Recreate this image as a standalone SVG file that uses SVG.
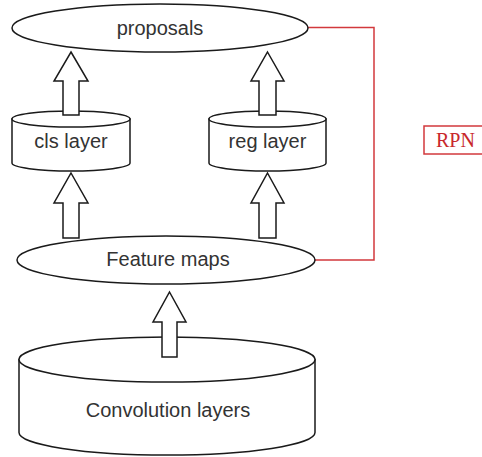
<svg xmlns="http://www.w3.org/2000/svg" width="482" height="457" viewBox="0 0 482 457">
  <style>
    .shape { fill: #ffffff; stroke: #1a1a1a; stroke-width: 1.5; }
    .arrow { fill: #ffffff; stroke: #1a1a1a; stroke-width: 1.5; stroke-linejoin: miter; }
    .label { font-family: "Liberation Sans", Arial, sans-serif; font-size: 20px; fill: #333333; text-anchor: middle; }
    .rpn-line { fill: none; stroke: #d2393c; stroke-width: 1.5; }
    .rpn-text { font-family: "Liberation Serif", "Times New Roman", serif; font-size: 20px; fill: #c8282c; }
  </style>
  <rect width="482" height="457" fill="#ffffff"/>

  <!-- RPN bracket -->
  <g id="connectors-rpn">
    <polyline class="rpn-line" points="308,27.5 374,27.5 374,260 315,260"/>
  </g>

  <g id="rpn-label">
    <rect x="424" y="126" width="66" height="28" fill="#ffffff" stroke="#d2393c" stroke-width="1.5"/>
    <text class="rpn-text" x="436" y="147">RPN</text>
  </g>

  <g id="proposals">
    <ellipse class="shape" cx="160" cy="28" rx="148" ry="24"/>
    <text class="label" x="160" y="35">proposals</text>
  </g>

  <g id="cls-layer">
    <path class="shape" d="M12,119 L12,163 A59,8 0 0 0 130,163 L130,119 Z"/>
    <ellipse class="shape" cx="71" cy="119" rx="59" ry="8"/>
    <text class="label" x="71" y="148">cls layer</text>
  </g>

  <g id="reg-layer">
    <path class="shape" d="M209,119 L209,163 A58.5,8 0 0 0 326,163 L326,119 Z"/>
    <ellipse class="shape" cx="267.5" cy="119" rx="58.5" ry="8"/>
    <text class="label" x="267.5" y="148">reg layer</text>
  </g>

  <g id="feature-maps">
    <ellipse class="shape" cx="166" cy="260" rx="149" ry="24"/>
    <text class="label" x="168" y="266">Feature maps</text>
  </g>

  <g id="convolution-layers">
    <path class="shape" d="M19,359.5 L19,432.5 A148,22.5 0 0 0 315,432.5 L315,359.5 Z"/>
    <ellipse class="shape" cx="167" cy="359.5" rx="148" ry="22.5"/>
    <text class="label" x="168" y="417">Convolution layers</text>
  </g>

  <!-- block arrows -->
  <g id="connectors">
    <polygon class="arrow" points="71,52 88,81 79,81 79,115 63,115 63,81 54,81"/>
    <polygon class="arrow" points="267.5,52 284,81 276,81 276,115 259,115 259,81 251,81"/>
    <polygon class="arrow" points="71,173 88,203 79,203 79,238 63,238 63,203 54,203"/>
    <polygon class="arrow" points="267.5,173 284,203 276,203 276,238 259,238 259,203 251,203"/>
    <polygon class="arrow" points="169.5,292 186,322 177,322 177,357 162,357 162,322 153,322"/>
  </g>
</svg>
